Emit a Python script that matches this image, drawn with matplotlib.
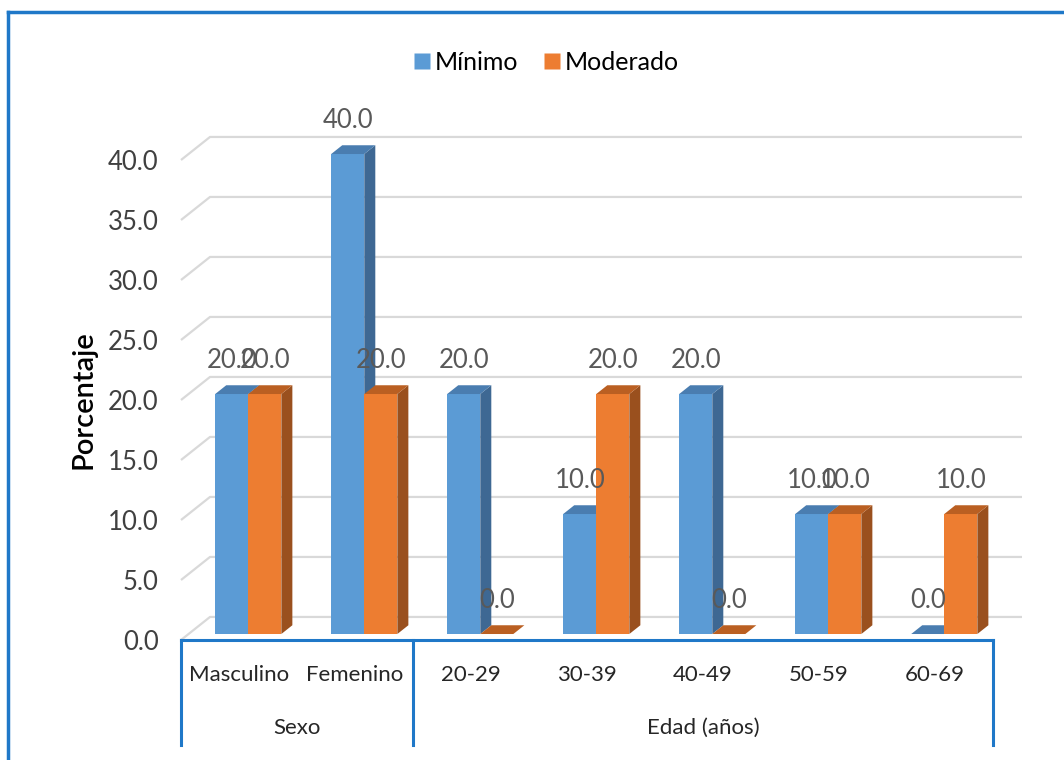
import numpy as np
import matplotlib
matplotlib.use('Agg')
import matplotlib.pyplot as plt
from matplotlib.patches import Polygon
from matplotlib.lines import Line2D

plt.rcParams['font.family'] = ['Lato', 'DejaVu Sans']

# ═══ Data ═════════════════════════════════════════════════════════════════

categorias = ['Masculino', 'Femenino', '20-29', '30-39', '40-49', '50-59', '60-69']
grupos = ['Sexo', 'Edad (años)']
grupo_tam = [2, 5]
minimo = [20.0, 40.0, 20.0, 10.0, 20.0, 10.0, 0.0]
moderado = [20.0, 20.0, 0.0, 20.0, 0.0, 10.0, 10.0]
series = ['Mínimo', 'Moderado']
yticks = np.arange(0, 45, 5)

# ═══ Style ════════════════════════════════════════════════════════════════

# front / side / top face colours for each series
caras = {
  'Mínimo':   ('#5B9BD5', '#3E6893', '#4A7DB0'),
  'Moderado': ('#ED7D31', '#9A501E', '#BA5F22'),
}
azul_eje = '#1F78C8'
gris_grid = '#D9D9D9'

# depth of the floor in data units (x: categories, y: percent)
DX, DY = 0.25, 1.92
t0, t1 = 0.26, 0.64     # bar depth span (0 = front, 1 = back wall)
ancho = 0.285           # bar width in category units

# ═══ Figure ═══════════════════════════════════════════════════════════════

fig = plt.figure(figsize=(10.64, 7.6), dpi=100)
W, H = 1064, 760
x0, x1 = 181, 993
y0, y1 = 640, 160
ax = fig.add_axes([x0/W, 1 - y0/H, (x1 - x0)/W, (y0 - y1)/H])
ax.set_xlim(0, len(categorias))
ax.set_ylim(0, 40)
for s in ax.spines.values():
  s.set_visible(False)
ax.set_xticks([])
ax.set_yticks(yticks)
ax.set_yticklabels([f'{v:.1f}' for v in yticks], fontsize=18.5, color='#404040')
ax.tick_params(axis='y', length=0, pad=16)

# ─── Gridlines (floor diagonal + back wall) ──────────────────────────────

n = len(categorias)
for v in yticks:
  ax.plot([0, DX, n + DX], [v, v + DY, v + DY], color=gris_grid, lw=1.6,
          zorder=1, clip_on=False, solid_capstyle='butt')

# ─── 3D bars ──────────────────────────────────────────────────────────────

def barra(xl, h, nombre, z):
  cf, cs, ct = caras[nombre]
  xr = xl + ancho
  ox0, oy0 = DX*t0, DY*t0
  ox1, oy1 = DX*t1, DY*t1
  if h > 0:
    ax.add_patch(Polygon([(xl+ox0, oy0), (xr+ox0, oy0), (xr+ox0, h+oy0), (xl+ox0, h+oy0)],
                         closed=True, fc=cf, ec='none', zorder=z, clip_on=False))
    ax.add_patch(Polygon([(xr+ox0, oy0), (xr+ox1, oy1), (xr+ox1, h+oy1), (xr+ox0, h+oy0)],
                         closed=True, fc=cs, ec='none', zorder=z, clip_on=False))
  ax.add_patch(Polygon([(xl+ox0, h+oy0), (xr+ox0, h+oy0), (xr+ox1, h+oy1), (xl+ox1, h+oy1)],
                       closed=True, fc=ct, ec='none', zorder=z, clip_on=False))
  # value label above the bar
  ax.text(xl + ox0 + ancho/2, h + oy0 + 2.8, f'{h:.1f}', ha='center', va='center',
          fontsize=18.5, color='#595959', zorder=20, clip_on=False)

z = 2
for i in range(n):
  xc = i + 0.5 - ancho
  barra(xc + 0.015, minimo[i], 'Mínimo', z)
  z += 1
  barra(xc + ancho + 0.015, moderado[i], 'Moderado', z)
  z += 1

# ─── Category axis (two levels) ──────────────────────────────────────────

y_fondo = -8.75
ax.plot([0, n], [0, 0], color=azul_eje, lw=2.2, clip_on=False, zorder=15)
bordes = np.concatenate([[0], np.cumsum(grupo_tam)])
for b in bordes:
  ax.plot([b, b], [0, y_fondo], color=azul_eje, lw=2.2, clip_on=False, zorder=15)

for i, c in enumerate(categorias):
  ax.text(i + 0.5, -2.95, c, ha='center', va='center', fontsize=16,
          color='#262626', clip_on=False)
for g, a, b in zip(grupos, bordes[:-1], bordes[1:]):
  ax.text((a + b)/2, -7.35, g, ha='center', va='center', fontsize=16,
          color='#262626', clip_on=False)

ax.set_ylabel('Porcentaje', fontsize=21, color='black', labelpad=8, fontweight='semibold')

# ─── Legend ───────────────────────────────────────────────────────────────

handles = [Line2D([], [], marker='s', ls='none', markersize=11.5,
                  markerfacecolor=caras[s][0], markeredgecolor='none') for s in series]
fig.legend(handles, series, loc='center', bbox_to_anchor=(546/W, 1 - 62/H), ncol=2,
           frameon=False, fontsize=18, handletextpad=0.15, columnspacing=1.0,
           handlelength=0.7)

# ─── Outer border ─────────────────────────────────────────────────────────

fig.add_artist(Line2D([8/W, 8/W], [0, 1 - 12/H], color=azul_eje, lw=2.5))
fig.add_artist(Line2D([8/W, 1], [1 - 12/H, 1 - 12/H], color=azul_eje, lw=2.5))

fig.savefig('out.png', dpi=100)
